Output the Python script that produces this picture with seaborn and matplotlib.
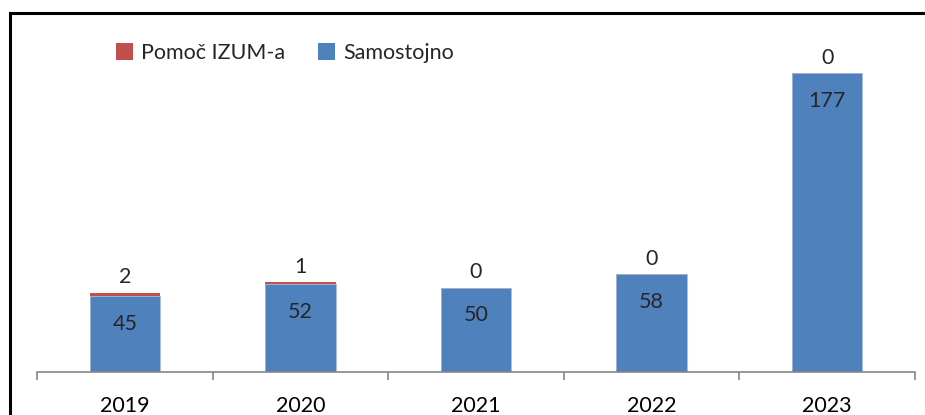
import matplotlib
matplotlib.use("Agg")
import matplotlib.pyplot as plt
from matplotlib.patches import Rectangle, Patch
import seaborn as sns
import pandas as pd

# data
years = ["2019", "2020", "2021", "2022", "2023"]
samostojno = [45, 52, 50, 58, 177]
pomoc_izum = [2, 1, 0, 0, 0]

blue = "#4F81BD"
red = "#C0504D"

df = pd.DataFrame({"leto": years, "Samostojno": samostojno, "Pomoč IZUM-a": pomoc_izum})
df["skupaj"] = df["Samostojno"] + df["Pomoč IZUM-a"]

sns.set_style("white")
plt.rcParams["font.family"] = ["Lato", "DejaVu Sans"]
fs = 15.5

fig = plt.figure(figsize=(9.25, 4.15), dpi=100)
ax = fig.add_axes([37 / 925, 43 / 415, 878 / 925, 338 / 415])

# stacked bars: totals (red) first, blue drawn over
sns.barplot(data=df, x="leto", y="skupaj", color=red, width=0.4, saturation=1,
            ax=ax, edgecolor="none")
sns.barplot(data=df, x="leto", y="Samostojno", color=blue, width=0.4, saturation=1,
            ax=ax, edgecolor="#A7BFDE", linewidth=0.6)

ax.set_xlim(-0.5, len(years) - 0.5)
ax.set_ylim(0, 200)
ax.set_xlabel("")
ax.set_ylabel("")
ax.set_yticks([])

for s in ["top", "right", "left"]:
    ax.spines[s].set_visible(False)
ax.spines["bottom"].set_color("#868686")
ax.spines["bottom"].set_linewidth(1.2)

# category boundary ticks
ax.set_xticks([i - 0.5 for i in range(len(years) + 1)], minor=True)
ax.tick_params(axis="x", which="minor", bottom=True, length=5.5, width=1.2,
               color="#868686", direction="out")
ax.tick_params(axis="x", which="major", bottom=True, length=0, labelsize=fs, pad=17,
               labelcolor="black")

# data labels
for i in range(len(years)):
    ax.annotate(str(samostojno[i]), (i, samostojno[i]), xytext=(0, -20),
                textcoords="offset points", ha="center", va="center", fontsize=fs)
    ax.annotate(str(pomoc_izum[i]), (i, df["skupaj"][i]), xytext=(0, 11),
                textcoords="offset points", ha="center", va="center", fontsize=fs)

# legend
handles = [Patch(facecolor=red, edgecolor="none"), Patch(facecolor=blue, edgecolor="none")]
fig.legend(handles, ["Pomoč IZUM-a", "Samostojno"], loc="center left",
           bbox_to_anchor=(116 / 925, 1 - 53 / 415), ncol=2, frameon=False,
           fontsize=fs, handlelength=0.8, handleheight=0.8, handletextpad=0.35,
           columnspacing=1.55, borderaxespad=0, borderpad=0)

# chart frame (cut off at right and bottom)
fig.patches.append(Rectangle((9.5 / 925, -0.05), 1.1, 1.05 - 13.5 / 415,
                             transform=fig.transFigure, fill=False,
                             edgecolor="black", linewidth=2.2, clip_on=False))

fig.savefig("out.png", dpi=100)
